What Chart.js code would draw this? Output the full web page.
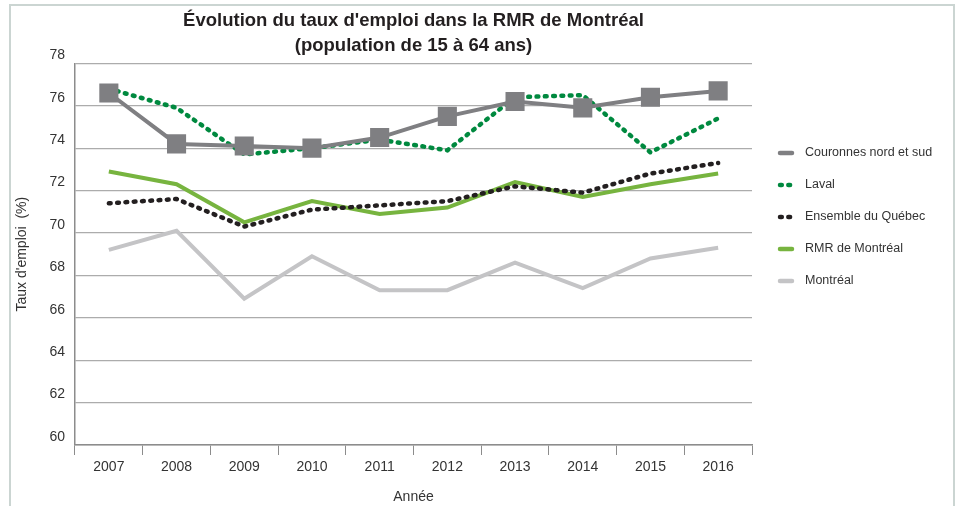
<!DOCTYPE html>
<html lang="fr">
<head>
<meta charset="utf-8">
<title>Évolution du taux d'emploi dans la RMR de Montréal</title>
<script src="https://cdn.jsdelivr.net/npm/chart.js@4/dist/chart.umd.min.js"></script>
<style>
  html, body { margin: 0; padding: 0; background: #fff; }
  #wrap { width: 960px; height: 506px; }
</style>
</head>
<body>
<div id="wrap"><canvas id="tauxChart" width="960" height="506"></canvas></div>
<script>
// Années
const annees = ['2007', '2008', '2009', '2010', '2011', '2012', '2013', '2014', '2015', '2016'];

// Taux d'emploi (%)
const couronnes = [76.6, 74.2, 74.1, 74.0, 74.5, 75.5, 76.2, 75.9, 76.4, 76.7];
const laval     = [76.8, 75.9, 73.7, 74.0, 74.4, 73.9, 76.4, 76.5, 73.8, 75.4];
const quebec    = [71.4, 71.6, 70.3, 71.1, 71.3, 71.5, 72.2, 71.9, 72.8, 73.3];
const rmr       = [72.9, 72.3, 70.5, 71.5, 70.9, 71.2, 72.4, 71.7, 72.3, 72.8];
const montreal  = [69.2, 70.1, 66.9, 68.9, 67.3, 67.3, 68.6, 67.4, 68.8, 69.3];

const yTicks = [60, 62, 64, 66, 68, 70, 72, 74, 76, 78];

const FONT = "'Liberation Sans', Arial, sans-serif";
const TEXT = '#333333';

// cadre gris clair autour du graphique
const cadrePlugin = {
    id: 'cadre',
    beforeDraw(chart) {
        const ctx = chart.ctx;
        ctx.save();
        ctx.strokeStyle = '#cbd5d2';
        ctx.lineWidth = 2;
        ctx.strokeRect(10, 5, 944, 520);
        ctx.restore();
    }
};

// légende à droite, dessinée avec le style de chaque série
const legendePlugin = {
    id: 'legende',
    afterDraw(chart) {
        const ctx = chart.ctx;
        const x0 = chart.chartArea.right + 28;
        let y = 153;
        ctx.save();
        chart.data.datasets.forEach(ds => {
            ctx.beginPath();
            ctx.strokeStyle = ds.borderColor;
            ctx.lineWidth = 4.5;
            ctx.lineCap = 'round';
            ctx.setLineDash(ds.borderDash || []);
            ctx.moveTo(x0, y);
            ctx.lineTo(x0 + 12, y);
            ctx.stroke();
            ctx.setLineDash([]);
            ctx.fillStyle = TEXT;
            ctx.font = '12.5px ' + FONT;
            ctx.textBaseline = 'middle';
            ctx.fillText(ds.label, x0 + 25, y);
            y += 32;
        });
        ctx.restore();
    }
};

const pointille = [1.8, 6.5];

new Chart(document.getElementById('tauxChart'), {
    type: 'line',
    data: {
        labels: annees,
        datasets: [
            {
                label: 'Couronnes nord et sud',
                data: couronnes,
                borderColor: '#7f7f82',
                backgroundColor: '#7f7f82',
                borderWidth: 4,
                pointStyle: 'rect',
                pointRadius: 13.5,
                pointHoverRadius: 13.5,
                pointBorderWidth: 0
            },
            {
                label: 'Laval',
                data: laval,
                borderColor: '#00893f',
                borderWidth: 4.5,
                borderDash: pointille,
                borderCapStyle: 'round',
                pointRadius: 0
            },
            {
                label: 'Ensemble du Québec',
                data: quebec,
                borderColor: '#231f20',
                borderWidth: 4.5,
                borderDash: pointille,
                borderCapStyle: 'round',
                pointRadius: 0
            },
            {
                label: 'RMR de Montréal',
                data: rmr,
                borderColor: '#77b43f',
                borderWidth: 4,
                pointRadius: 0
            },
            {
                label: 'Montréal',
                data: montreal,
                borderColor: '#c4c4c6',
                borderWidth: 4,
                pointRadius: 0
            }
        ]
    },
    options: {
        responsive: false,
        animation: false,
        layout: {
            padding: { top: 8, left: 12, right: 208, bottom: 0 }
        },
        scales: {
            x: {
                offset: true,
                grid: {
                    offset: true,
                    drawOnChartArea: false,
                    drawTicks: true,
                    tickLength: 10,
                    color: '#8c8c8c'
                },
                border: { display: true, color: '#8c8c8c', width: 1.5 },
                ticks: { color: TEXT, font: { family: FONT, size: 14 }, padding: 4 },
                title: {
                    display: true,
                    text: 'Année',
                    color: TEXT,
                    font: { family: FONT, size: 14 },
                    padding: { top: 6, bottom: 0 }
                },
                afterFit(scale) { scale.height = 61; }
            },
            y: {
                min: 60,
                max: 78,
                afterBuildTicks(scale) { scale.ticks = yTicks.map(v => ({ value: v })); },
                grid: { color: '#acacac', lineWidth: 1.2, drawTicks: false },
                border: { display: true, color: '#8c8c8c', width: 1.5 },
                ticks: {
                    color: TEXT,
                    font: { family: FONT, size: 14 },
                    padding: 10,
                    labelOffset: -8
                },
                title: {
                    display: true,
                    text: "Taux d'emploi  (%)",
                    color: TEXT,
                    font: { family: FONT, size: 14 },
                    padding: { top: 2, bottom: 0 }
                },
                afterFit(scale) { scale.width = 63; }
            }
        },
        plugins: {
            legend: { display: false },
            tooltip: { enabled: false },
            title: {
                display: true,
                fullSize: false,
                text: ["Évolution du taux d'emploi dans la RMR de Montréal", '(population de 15 à 64 ans)'],
                color: '#231f20',
                font: { family: FONT, size: 18.5, weight: 'bold', lineHeight: 1.36 },
                padding: { top: 0, bottom: 5 }
            }
        }
    },
    plugins: [cadrePlugin, legendePlugin]
});
</script>
</body>
</html>
